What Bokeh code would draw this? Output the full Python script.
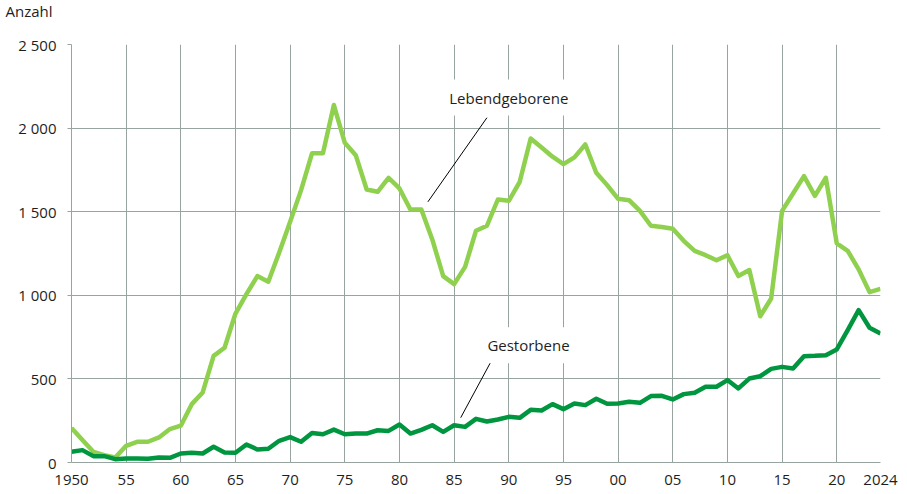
from bokeh.plotting import figure
from bokeh.models import FixedTicker, Label, Title, ColumnDataSource
from bokeh.embed import file_html
from bokeh.resources import INLINE

# ---- data ----
years = list(range(1950, 2025))
lebendgeborene = [
    207, 135, 64, 44, 30, 100, 124, 124, 150, 200,          # 1950-59
    220, 349, 419, 638, 686, 891, 1007, 1115, 1081, 1256,   # 1960-69
    1440, 1629, 1849, 1849, 2138, 1912, 1838, 1633, 1619, 1703,  # 1970-79
    1639, 1513, 1513, 1334, 1115, 1067, 1170, 1386, 1416, 1573,  # 1980-89
    1565, 1679, 1938, 1884, 1829, 1785, 1825, 1902, 1733, 1659,  # 1990-99
    1577, 1569, 1505, 1416, 1408, 1398, 1326, 1266, 1240, 1210,  # 2000-09
    1240, 1115, 1151, 875, 981, 1505, 1609, 1713, 1595, 1703,    # 2010-19
    1310, 1266, 1155, 1019, 1039,                                # 2020-24
]
gestorbene = [
    64, 74, 38, 38, 20, 24, 24, 22, 30, 28,        # 1950-59
    54, 58, 54, 94, 60, 58, 108, 78, 82, 130,      # 1960-69
    152, 124, 177, 169, 197, 169, 173, 173, 193, 189,  # 1970-79
    227, 173, 195, 223, 183, 223, 213, 261, 245, 257,  # 1980-89
    273, 267, 315, 311, 349, 319, 353, 343, 381, 351,  # 1990-99
    353, 363, 357, 397, 399, 377, 409, 417, 453, 453,  # 2000-09
    493, 443, 502, 516, 560, 572, 562, 636, 638, 642,  # 2010-19
    676, 792, 911, 806, 772,                           # 2020-24
]

x_ticks = [1950, 1955, 1960, 1965, 1970, 1975, 1980, 1985, 1990, 1995,
           2000, 2005, 2010, 2015, 2020, 2024]
x_tick_labels = ["1950", "55", "60", "65", "70", "75", "80", "85", "90", "95",
                 "00", "05", "10", "15", "20", "2024"]
y_ticks = [0, 500, 1000, 1500, 2000, 2500]
y_tick_labels = ["0", "500", "1 000", "1 500", "2 000", "2 500"]
unit_label = "Anzahl"

# annotation positions (label centres and leader lines)
label_texts = ["Lebendgeborene", "Gestorbene"]
label_x = [1990.0, 1991.8]
label_y = [2183, 701]
leader_x0 = [1988.0, 1988.4]
leader_y0 = [2062, 607]
leader_x1 = [1982.6, 1985.6]
leader_y1 = [1559, 268]

FONT = "Open Sans"
TEXT_COLOR = "#1e1e1e"
GRID_COLOR = "#97a49f"
LIGHT_GREEN = "#8fd14f"
DARK_GREEN = "#00953f"

p = figure(width=900, height=494, output_backend="svg", toolbar_location=None,
           x_range=(1950, 2024), y_range=(0, 2500),
           min_border_left=71, min_border_right=20, min_border_top=44,
           min_border_bottom=32)
p.outline_line_color = None
p.background_fill_color = "white"
p.border_fill_color = "white"

# unit label as (outer) title, with an inner spacer title below it
p.title.text = unit_label
p.title.align = "left"
p.title.offset = -66
p.title.standoff = 0
p.title.vertical_align = "top"
p.title.text_font = FONT
p.title.text_font_size = "15px"
p.title.text_font_style = "normal"
p.title.text_color = TEXT_COLOR
p.add_layout(Title(text=" ", standoff=0, text_font=FONT,
                   text_font_size="15px", text_color="white"), "above")

# axes
p.xaxis.ticker = FixedTicker(ticks=x_ticks)
p.xaxis.major_label_overrides = {t: l for t, l in zip(x_ticks, x_tick_labels)}
p.yaxis.ticker = FixedTicker(ticks=y_ticks)
p.yaxis.major_label_overrides = {t: l for t, l in zip(y_ticks, y_tick_labels)}
for ax in (p.xaxis, p.yaxis):
    ax.axis_line_color = GRID_COLOR
    ax.axis_line_width = 1
    ax.major_tick_line_color = GRID_COLOR
    ax.minor_tick_line_color = None
    ax.major_label_text_font = FONT
    ax.major_label_text_font_size = "15px"
    ax.major_label_text_color = TEXT_COLOR
p.xaxis.major_tick_out = 0
p.xaxis.major_tick_in = 0
p.xaxis.major_label_standoff = 12
p.yaxis.major_tick_out = 4
p.yaxis.major_tick_in = 0
p.yaxis.major_label_standoff = 11

p.xgrid.ticker = FixedTicker(ticks=x_ticks)
p.ygrid.ticker = FixedTicker(ticks=y_ticks)
p.xgrid.grid_line_color = GRID_COLOR
p.ygrid.grid_line_color = GRID_COLOR
p.xgrid.grid_line_width = 1
p.ygrid.grid_line_width = 1

src = ColumnDataSource(dict(year=years, leb=lebendgeborene, ges=gestorbene))
p.line("year", "leb", source=src, line_color=LIGHT_GREEN, line_width=4.5,
       line_join="round")
p.line("year", "ges", source=src, line_color=DARK_GREEN, line_width=4.5,
       line_join="round")

# annotations
for t, lx, ly in zip(label_texts, label_x, label_y):
    p.add_layout(Label(x=lx, y=ly, text=t, text_align="center",
                       text_baseline="middle", text_font=FONT,
                       text_font_size="15px", text_color=TEXT_COLOR,
                       background_fill_color="white", padding=8))
p.segment(x0=leader_x0, y0=leader_y0, x1=leader_x1, y1=leader_y1,
          line_color="black", line_width=1)

open("out.html", "w").write(file_html(p, INLINE))
